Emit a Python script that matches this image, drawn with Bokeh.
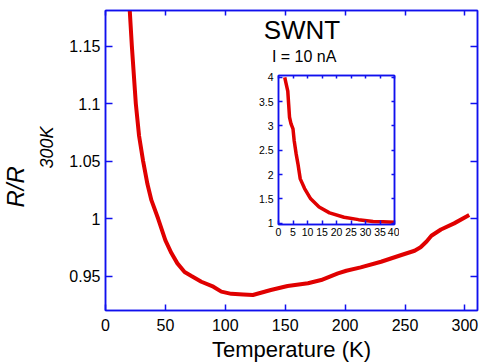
import math
from bokeh.plotting import figure
from bokeh.models import FixedTicker, Label, LinearAxis, Title
from bokeh.layouts import column
from bokeh.embed import file_html
from bokeh.resources import INLINE

# main curve: temperature (K) vs R/R300K
main_T = [19.8, 20.3, 22, 25.3, 28, 31.4, 35, 38.3, 43.9, 50, 55, 60, 66, 71.7, 80, 90,
          96.7, 105, 115, 123, 138, 152, 169, 180, 194, 201, 213, 230, 247, 258, 263, 268,
          272, 280, 291, 303.6]
main_R = [1.19, 1.18, 1.15, 1.10, 1.072, 1.05, 1.03, 1.016, 1.0, 0.981, 0.970, 0.961,
          0.9535, 0.95, 0.945, 0.9407, 0.9364, 0.9345, 0.934, 0.9335, 0.9378, 0.9413,
          0.9437, 0.9465, 0.9523, 0.9546, 0.9575, 0.9624, 0.9683, 0.972, 0.975, 0.980,
          0.985, 0.9905, 0.9958, 1.003]

# inset curve: low temperature part
inset_T = [2.15, 2.6, 3.2, 3.5, 3.8, 4.3, 5.0, 5.4, 6.1, 6.7, 7.5, 9.0, 11.1, 14, 17.6,
           22.6, 27.6, 32.6, 36, 40]
inset_R = [4.0, 3.88, 3.72, 3.45, 3.18, 3.05, 2.94, 2.70, 2.42, 2.22, 1.91, 1.71, 1.50,
           1.33, 1.21, 1.12, 1.07, 1.03, 1.025, 1.015]

main_xticks = [0, 50, 100, 150, 200, 250, 300]
main_yticks = [0.95, 1.0, 1.05, 1.1, 1.15]
main_ylabels = ["0.95", "1", "1.05", "1.1", "1.15"]
inset_xticks = [0, 5, 10, 15, 20, 25, 30, 35, 40]
inset_yticks = [1.0, 1.5, 2.0, 2.5, 3.0, 3.5, 4.0]
inset_ylabels = ["1", "1.5", "2", "2.5", "3", "3.5", "4"]

title_text = "SWNT"
subtitle_text = "I = 10 nA"
xlabel_text = "Temperature (K)"
ylabel_main = "R/R"
ylabel_sub = "300K"

FONT = "Liberation Sans"
AX = "#1010ee"
RED = "#e00000"


def style_axis(ax, ticks, labels, size, tick_in, standoff):
    ax.ticker = FixedTicker(ticks=ticks)
    ax.axis_line_color = AX
    ax.axis_line_width = 1.5
    ax.major_tick_line_color = AX
    ax.major_tick_line_width = 1.5
    ax.major_tick_in = tick_in
    ax.major_tick_out = 0
    ax.minor_tick_line_color = None
    ax.major_label_standoff = standoff
    if labels is None:
        # mirror axis: ticks only, labels not drawn
        ax.major_label_text_color = None
        ax.major_label_text_font_size = "1px"
    else:
        ax.major_label_text_font = FONT
        ax.major_label_text_font_size = size
        ax.major_label_text_color = "black"
        ax.major_label_overrides = {t: l for t, l in zip(ticks, labels)}


p = figure(width=482, height=364, x_range=(0, 310.5), y_range=(0.92, 1.181),
           output_backend="svg", toolbar_location=None,
           min_border_left=105, min_border_right=5, min_border_top=10,
           min_border_bottom=54, x_axis_location=None, y_axis_location=None)
p.grid.visible = False
p.outline_line_color = AX
p.outline_line_width = 1.5

xb = LinearAxis(); p.add_layout(xb, "below")
yl = LinearAxis(); p.add_layout(yl, "left")
xt = LinearAxis(); p.add_layout(xt, "above")
yr = LinearAxis(); p.add_layout(yr, "right")
style_axis(xb, main_xticks, [str(t) for t in main_xticks], "16px", 6, 8)
style_axis(yl, main_yticks, main_ylabels, "16px", 7, 5)
style_axis(xt, main_xticks, None, None, 5, 0)
style_axis(yr, main_yticks, None, None, 7, 0)
xb.axis_label = xlabel_text
xb.axis_label_text_font = FONT
xb.axis_label_text_font_size = "22px"
xb.axis_label_text_font_style = "normal"
xb.axis_label_text_color = "black"
xb.axis_label_standoff = 3

# y-axis label with subscript, as two titles on the left side
t_sub = Title(text=ylabel_sub, text_font=FONT, text_font_size="18px",
              text_font_style="italic", text_color="black", align="left",
              vertical_align="bottom", offset=142, standoff=20)
p.add_layout(t_sub, "left")
t_main = Title(text=ylabel_main, text_font=FONT, text_font_size="24px",
               text_font_style="italic", text_color="black", align="left",
               vertical_align="bottom", offset=103, standoff=-8)
p.add_layout(t_main, "left")

p.line(main_T, main_R, line_color=RED, line_width=4)

p.add_layout(Label(x=164, y=1.1639, text=title_text, text_font=FONT,
                   text_font_size="26px", text_align="center",
                   text_baseline="middle", text_color="black"))
p.add_layout(Label(x=165.8, y=1.1411, text=subtitle_text, text_font=FONT,
                   text_font_size="16px", text_align="center",
                   text_baseline="middle", text_color="black"))

# inset
q = figure(width=226, height=172, x_range=(0, 40), y_range=(0.97, 4.04),
           output_backend="svg", toolbar_location=None,
           min_border_left=35, min_border_right=5, min_border_top=5,
           min_border_bottom=18, x_axis_location=None, y_axis_location=None)
q.grid.visible = False
q.outline_line_color = AX
q.outline_line_width = 1.5
q.border_fill_alpha = 0
q.background_fill_color = "white"

ixb = LinearAxis(); q.add_layout(ixb, "below")
iyl = LinearAxis(); q.add_layout(iyl, "left")
ixt = LinearAxis(); q.add_layout(ixt, "above")
iyr = LinearAxis(); q.add_layout(iyr, "right")
style_axis(ixb, inset_xticks, [str(t) for t in inset_xticks], "10.5px", 4, 3)
style_axis(iyl, inset_yticks, inset_ylabels, "10.5px", 4, 5)
style_axis(ixt, inset_xticks, None, None, 3, 0)
style_axis(iyr, inset_yticks, None, None, 3, 0)

q.line(inset_T, inset_R, line_color=RED, line_width=3.5)
q.margin = (70 - 364, 0, 0, 173)

layout = column(p, q, spacing=0)
open("out.html", "w").write(file_html(layout, INLINE))
